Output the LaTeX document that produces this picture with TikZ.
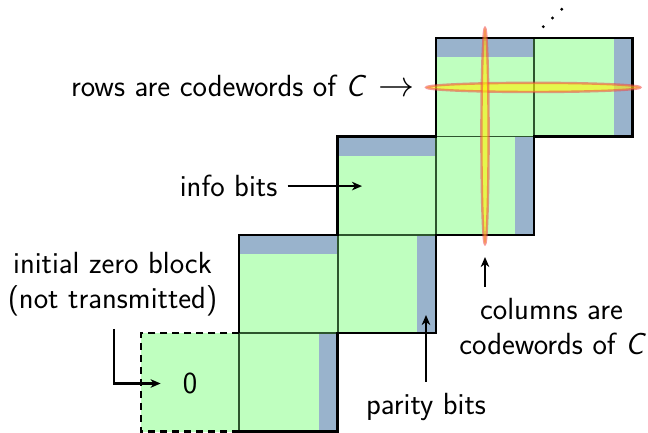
\RequirePackage{fix-cm}
\documentclass[tikz,border=0pt]{standalone}
\usepackage{fontspec}
\usetikzlibrary{arrows.meta}
\definecolor{blkgreen}{RGB}{191,255,191}
\definecolor{parblue}{RGB}{153,179,204}
\definecolor{innerline}{RGB}{45,85,45}
\definecolor{ellred}{RGB}{240,70,70}
\begin{document}
\begin{tikzpicture}[x=1pt,y=-1pt,
  lbl/.style={font=\fontsize{30.6}{35.5}\selectfont\sffamily, inner sep=0pt, align=center},
  arr/.style={line width=2.1pt, -{Stealth[length=10pt,width=8.5pt,inset=3pt]}},
  outer/.style={line width=2.3pt, line join=miter},
  inner/.style={line width=1.8pt, draw=innerline},
  dashedbox/.style={line width=2.1pt, dash pattern=on 7pt off 5pt},
  ell/.style={fill=yellow, fill opacity=0.6, draw=ellred, draw opacity=0.55, line width=2.4pt}]
\useasboundingbox (0,0) rectangle (648,433);
\def\s{98.3}
% green blocks
\fill[blkgreen] (141,333.2) rectangle (239.3,431.5);
\foreach \c/\r in {1/0,1/1,2/1,2/2,3/2,3/3,4/3}{
  \fill[blkgreen] ({141+\c*\s},{431.5-(\r+1)*\s}) rectangle ({141+(\c+1)*\s},{431.5-\r*\s});
}
% parity strips: top
\foreach \c/\r in {1/1,2/2,3/3}{
  \fill[parblue] ({141+\c*\s},{431.5-(\r+1)*\s}) rectangle ({141+(\c+1)*\s},{431.5-(\r+1)*\s+19});
}
% parity strips: right
\foreach \c/\r in {1/0,2/1,3/2,4/3}{
  \fill[parblue] ({141+(\c+1)*\s-19},{431.5-(\r+1)*\s}) rectangle ({141+(\c+1)*\s},{431.5-\r*\s});
}
% inner lines
\draw[inner] (239.3,333.2) -- (239.3,431.5);
\draw[inner] (239.3,333.2) -- (337.6,333.2);
\draw[inner] (337.6,234.9) -- (337.6,333.2);
\draw[inner] (337.6,234.9) -- (435.9,234.9);
\draw[inner] (435.9,136.6) -- (435.9,234.9);
\draw[inner] (435.9,136.6) -- (534.2,136.6);
\draw[inner] (534.2,38.3) -- (534.2,136.6);
% outer boundary
\draw[outer] (239.3,333.2) -- (239.3,234.9) -- (337.6,234.9) -- (337.6,136.6) -- (435.9,136.6)
  -- (435.9,38.3) -- (632.5,38.3) -- (632.5,136.6) -- (534.2,136.6) -- (534.2,234.9)
  -- (435.9,234.9) -- (435.9,333.2) -- (337.6,333.2) -- (337.6,431.5) -- (239.3,431.5);
\draw[dashedbox] (239.3,333.2) -- (141,333.2) -- (141,431.5) -- (239.3,431.5);
% ellipses
\draw[ell] (533.3,87.4) ellipse [x radius=107, y radius=4.6];
\draw[ell] (485,136) ellipse [x radius=3.6, y radius=108];
% dots
\fill (543.3,26.7) circle (1.6);
\fill (552.5,18) circle (1.6);
\fill (561.7,9.2) circle (1.6);
% labels
\node[lbl, anchor=base east] (rows) at (415,96.7) {rows are codewords of {\itshape C}\ \,{\fontsize{36}{40}\selectfont$\rightarrow$}};
\node[lbl, anchor=base east] (info) at (277.5,196.7) {info bits};
\coordinate (infotip) at (362,0);
\draw[arr] (info.east) ++(10,0) -- (infotip |- info.east);
\node[lbl, anchor=north] (init) at (112.5,252) {initial zero block\\(not transmitted)};
\node[lbl] (zero) at (190,383.5) {0};
\draw[arr] ([xshift=1.5pt,yshift=-12pt]init.south) |- ([xshift=-22pt]zero.west);
\node[lbl, anchor=base] (parity) at (426,414) {parity bits};
\coordinate (paritytip) at (426,315);
\draw[arr] (parity.north) ++(0,-11) -- (paritytip);
\node[lbl, anchor=north] (cols) at (551.5,298) {columns are\\codewords of {\itshape C}};
\coordinate (coltip) at (485,257);
\draw[arr] (coltip |- cols.north) ++(0,-11.5) -- (coltip);
\end{tikzpicture}
\end{document}
